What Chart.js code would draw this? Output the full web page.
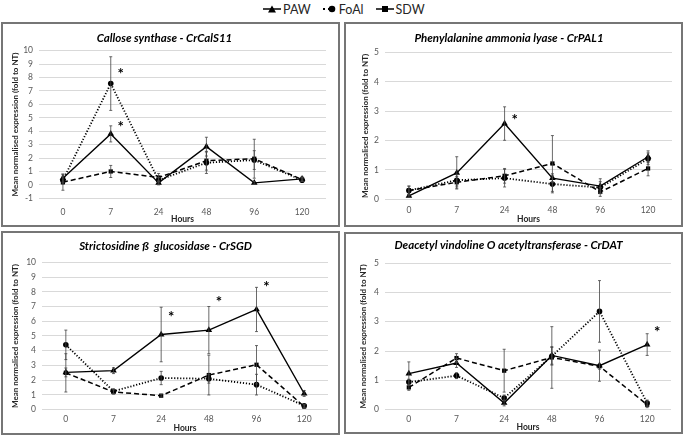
<!DOCTYPE html>
<html>
<head>
<meta charset="utf-8">
<script src="https://cdn.jsdelivr.net/npm/chart.js@4.4.1/dist/chart.umd.min.js"></script>
<style>
  html, body { margin: 0; padding: 0; background: #fff; width: 685px; height: 438px; overflow: hidden; }
  body { font-family: Lato, "Open Sans", sans-serif; position: relative; }
  .box { position: absolute; border: 2px solid #767676; box-sizing: border-box; }
  .box canvas { display: block; }
  #legend { position: absolute; top: 1px; left: 263px; display: flex; align-items: center;
            font-size: 12.5px; color: #262626; height: 16px; }
  #legend span { display: flex; align-items: center; margin-right: 12px; }
  #legend svg { margin-right: 2px; }
</style>
</head>
<body>
<div id="legend">
  <span><svg width="18" height="10"><line x1="0" y1="5" x2="18" y2="5" stroke="#000" stroke-width="1.5"/><path d="M9 1.5 L13 8.5 L5 8.5 Z" fill="#000"/></svg>PAW</span>
  <span><svg width="14" height="10"><line x1="0" y1="5" x2="14" y2="5" stroke="#000" stroke-width="2" stroke-dasharray="2 3"/><circle cx="9" cy="5" r="3.3" fill="#000"/></svg>FoAl</span>
  <span><svg width="18" height="10"><line x1="0" y1="5" x2="18" y2="5" stroke="#000" stroke-width="1.5"/><rect x="6" y="2" width="6" height="6" fill="#000"/></svg>SDW</span>
</div>
<div class="box" style="left:1px;top:22px;width:339px;height:205px"><canvas id="cCal" width="335" height="201"></canvas></div>
<div class="box" style="left:344px;top:22px;width:339px;height:205px"><canvas id="cPal" width="335" height="201"></canvas></div>
<div class="box" style="left:1px;top:231px;width:339px;height:204px"><canvas id="cSgd" width="335" height="200"></canvas></div>
<div class="box" style="left:344px;top:232px;width:339px;height:202px"><canvas id="cDat" width="335" height="198"></canvas></div>
<script>
const HOURS = ["0", "7", "24", "48", "96", "120"];

// Callose synthase - CrCalS11
const calPAW = [0.5, 3.8, 0.15, 2.85, 0.15, 0.45];
const calFoAl = [0.35, 7.55, 0.35, 1.65, 1.85, 0.35];
const calSDW = [0.2, 1.0, 0.55, 1.8, 1.95, 0.4];
const calPAWErr = [0.3, 0.6, 0.15, 0.7, 0.1, 0.15];
const calFoAlErr = [0.3, 2.0, 0.2, 0.8, 0.7, 0.1];
const calSDWErr = [0.6, 0.45, 0.3, 0.7, 1.45, 0.15];
const calStars = [[1, 8.45], [1, 4.5]];

// Phenylalanine ammonia lyase - CrPAL1
const palPAW = [0.12, 0.9, 2.58, 0.72, 0.45, 1.45];
const palFoAl = [0.3, 0.65, 0.72, 0.52, 0.4, 1.38];
const palSDW = [0.3, 0.58, 0.8, 1.22, 0.25, 1.05];
const palPAWErr = [0.05, 0.55, 0.57, 0.15, 0.25, 0.2];
const palFoAlErr = [0.15, 0.2, 0.3, 0.3, 0.2, 0.2];
const palSDWErr = [0.15, 0.2, 0.25, 0.95, 0.15, 0.25];
const palStars = [[2, 2.8]];

// Strictosidine B glucosidase - CrSGD
const sgdPAW = [2.53, 2.65, 5.1, 5.4, 6.8, 1.1];
const sgdFoAl = [4.4, 1.25, 2.15, 2.1, 1.7, 0.27];
const sgdSDW = [2.5, 1.2, 0.95, 2.35, 3.05, 0.22];
const sgdPAWErr = [0.3, 0.2, 1.85, 1.6, 1.5, 0.2];
const sgdFoAlErr = [1.0, 0.15, 0.45, 0.3, 0.7, 0.1];
const sgdSDWErr = [1.3, 0.15, 0.1, 1.35, 1.3, 0.1];
const sgdStars = [[2, 6.5], [3, 7.5], [4, 8.55]];

// Deacetyl vindoline O acetyltransferase - CrDAT
const datPAW = [1.23, 1.59, 0.23, 1.85, 1.5, 2.22];
const datFoAl = [0.94, 1.16, 0.4, 1.82, 3.35, 0.23];
const datSDW = [0.76, 1.76, 1.33, 1.78, 1.48, 0.17];
const datPAWErr = [0.4, 0.15, 0.1, 0.3, 0.53, 0.37];
const datFoAlErr = [0.1, 0.1, 0.1, 0.3, 1.05, 0.1];
const datSDWErr = [0.1, 0.15, 0.73, 1.05, 0.1, 0.1];
const datStars = [[5, 2.73]];

const FONT = "Lato, 'Open Sans', sans-serif";

/* error bars + significance stars, both placed through the chart scales */
const extras = {
  id: "extras",
  afterDatasetsDraw(chart, args, opts) {
    const { ctx, scales: { x, y } } = chart;
    ctx.save();
    ctx.strokeStyle = "#444"; ctx.lineWidth = 0.8;
    chart.data.datasets.forEach((ds) => {
      ds.err.forEach((e, i) => {
        const px = x.getPixelForValue(i);
        const y1 = y.getPixelForValue(ds.data[i] + e);
        const y2 = y.getPixelForValue(ds.data[i] - e);
        ctx.beginPath();
        ctx.moveTo(px, y1); ctx.lineTo(px, y2);
        ctx.moveTo(px - 1.5, y1); ctx.lineTo(px + 1.5, y1);
        ctx.moveTo(px - 1.5, y2); ctx.lineTo(px + 1.5, y2);
        ctx.stroke();
      });
    });
    ctx.fillStyle = "#000"; ctx.font = "bold 15px " + FONT;
    ctx.textAlign = "center"; ctx.textBaseline = "middle";
    (opts.stars || []).forEach(([i, v]) =>
      ctx.fillText("*", x.getPixelForValue(i) + 10, y.getPixelForValue(v) + 3));
    ctx.restore();
  },
};

function line(label, data, err) {
  const s = {
    PAW: { borderDash: [], pointStyle: "triangle", pointRadius: 3.8, borderWidth: 1.4 },
    FoAl: { borderDash: [1.2, 1.8], pointStyle: "circle", pointRadius: 2.8, borderWidth: 1.8 },
    SDW: { borderDash: [5, 3], pointStyle: "rect", pointRadius: 3, borderWidth: 1.5 },
  }[label];
  return Object.assign({ label, data, err, borderColor: "#000", backgroundColor: "#000",
    pointBorderWidth: 0, tension: 0, clip: false }, s);
}

/* g: geometry inside the canvas (plot edges, title / label centres) */
function panel(id, title, sets, stars, min, max, g) {
  const cv = document.getElementById(id);
  const H = cv.height;
  new Chart(cv, {
    type: "line",
    data: { labels: HOURS, datasets: sets },
    plugins: [extras],
    options: {
      responsive: false, animation: false, devicePixelRatio: 1,
      layout: { padding: { left: 0, top: 0, bottom: 0, right: g.padR } },
      plugins: {
        legend: { display: false }, tooltip: { enabled: false },
        extras: { stars },
        title: { display: true, text: title, color: "#000",
          font: { family: FONT, size: 11.5, weight: "bold", style: "italic", lineHeight: 1.2 },
          padding: { top: g.titleY - 6.9, bottom: g.top - (g.titleY - 6.9) - 13.8 } },
      },
      scales: {
        x: {
          offset: true,
          grid: { display: false, drawTicks: false }, border: { display: false },
          ticks: { color: "#595959", font: { family: FONT, size: 8.5, lineHeight: 1.2 },
                   padding: g.labY - g.bottom - 5.1, maxRotation: 0 },
          title: { display: true, text: "Hours", color: "#262626",
                   font: { family: FONT, size: 8.5, weight: "bold", lineHeight: 1 },
                   padding: { top: 0, bottom: Math.max(0, H - g.hoursY - 4.25) } },
          afterFit: (s) => { s.height = H - g.bottom; },
        },
        y: {
          min, max,
          grid: { color: "#d9d9d9", drawTicks: false, lineWidth: 1 }, border: { display: false },
          ticks: { stepSize: 1, color: "#595959", font: { family: FONT, size: 8.5 }, padding: 6 },
          title: { display: true, text: "Mean normalised expression (fold to NT)", color: "#262626",
                   font: { family: FONT, size: 8, weight: "bold", lineHeight: 1.2 },
                   padding: { top: g.ytY - 4.8, bottom: 0 } },
          afterFit: (s) => { s.width = g.left; },
        },
      },
    },
  });
}

panel("cCal", "Callose synthase - CrCalS11",
  [line("PAW", calPAW, calPAWErr), line("FoAl", calFoAl, calFoAlErr), line("SDW", calSDW, calSDWErr)],
  calStars, -1, 10,
  { left: 36, padR: 12, top: 26.7, bottom: 174.3, titleY: 14, labY: 188, hoursY: 195, ytY: 12 });

panel("cPal", "Phenylalanine ammonia lyase - CrPAL1",
  [line("PAW", palPAW, palPAWErr), line("FoAl", palFoAl, palFoAlErr), line("SDW", palSDW, palSDWErr)],
  palStars, 0, 5,
  { left: 39, padR: 9, top: 28.5, bottom: 175.3, titleY: 14, labY: 186, hoursY: 195, ytY: 19 });

panel("cSgd", "Strictosidine ß  glucosidase - CrSGD",
  [line("PAW", sgdPAW, sgdPAWErr), line("FoAl", sgdFoAl, sgdFoAlErr), line("SDW", sgdSDW, sgdSDWErr)],
  sgdStars, 0, 10,
  { left: 39, padR: 10, top: 29.3, bottom: 176.7, titleY: 13.3, labY: 186.7, hoursY: 195.7, ytY: 12 });

panel("cDat", "Deacetyl vindoline O acetyltransferase - CrDAT",
  [line("PAW", datPAW, datPAWErr), line("FoAl", datFoAl, datFoAlErr), line("SDW", datSDW, datSDWErr)],
  datStars, 0, 5,
  { left: 39, padR: 10, top: 29, bottom: 175.7, titleY: 11.7, labY: 185.7, hoursY: 194.7, ytY: 17 });
</script>
</body>
</html>
